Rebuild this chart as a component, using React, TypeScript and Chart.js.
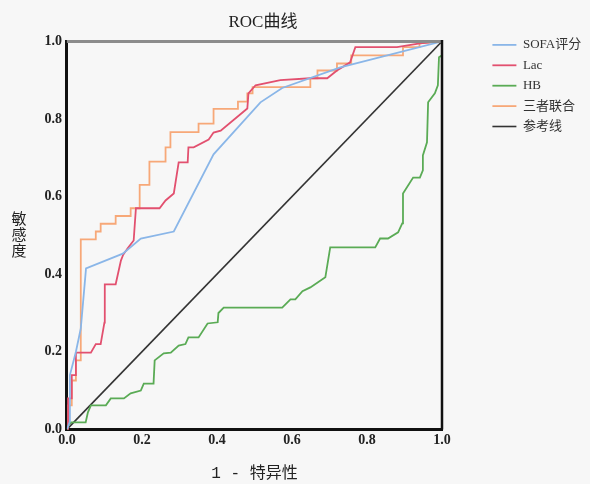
import React, { useEffect, useRef } from 'react';
import { Chart, registerables } from 'chart.js';

Chart.register(...registerables);

const chartTitle = 'ROC曲线';
const xTitle = '1 - 特异性';
const yTitle = '敏感度';
const seriesNames = ['SOFA评分', 'Lac', 'HB', '三者联合', '参考线'];
const seriesColors = ['#8ab6e8', '#e2506f', '#5aab55', '#f7a878', '#333333'];
const tickValues = [0, 0.2, 0.4, 0.6, 0.8, 1.0];

const sofaX = [0, 0.008, 0.008, 0.016, 0.024, 0.037, 0.051, 0.149, 0.197, 0.285, 0.391, 0.516, 0.574, 0.729, 1];
const sofaY = [0, 0.02, 0.14, 0.17, 0.2, 0.26, 0.415, 0.453, 0.492, 0.51, 0.709, 0.843, 0.88, 0.933, 1];

const lacX = [0, 0.003, 0.003, 0.013, 0.013, 0.024, 0.024, 0.064, 0.077, 0.09, 0.1, 0.101, 0.101, 0.13, 0.144, 0.15, 0.162, 0.178, 0.184, 0.247, 0.263, 0.285, 0.298, 0.322, 0.324, 0.338, 0.378, 0.391, 0.41, 0.481, 0.484, 0.503, 0.569, 0.649, 0.694, 0.72, 0.755, 0.769, 0.88, 0.941, 1];
const lacY = [0, 0, 0.08, 0.08, 0.14, 0.14, 0.198, 0.198, 0.22, 0.22, 0.275, 0.3, 0.374, 0.374, 0.435, 0.45, 0.467, 0.487, 0.57, 0.57, 0.59, 0.608, 0.688, 0.688, 0.727, 0.727, 0.747, 0.765, 0.77, 0.827, 0.866, 0.887, 0.9, 0.905, 0.905, 0.925, 0.946, 0.985, 0.985, 0.995, 1];

const hbX = [0, 0.003, 0.011, 0.05, 0.056, 0.064, 0.104, 0.117, 0.152, 0.17, 0.197, 0.205, 0.231, 0.234, 0.258, 0.277, 0.298, 0.316, 0.324, 0.351, 0.375, 0.402, 0.404, 0.418, 0.574, 0.596, 0.609, 0.628, 0.649, 0.689, 0.702, 0.822, 0.835, 0.856, 0.883, 0.894, 0.896, 0.923, 0.941, 0.949, 0.949, 0.96, 0.963, 0.981, 0.989, 0.992, 1, 1];
const hbY = [0, 0.01, 0.018, 0.018, 0.044, 0.062, 0.062, 0.08, 0.08, 0.093, 0.1, 0.118, 0.118, 0.178, 0.196, 0.198, 0.216, 0.22, 0.237, 0.237, 0.273, 0.276, 0.3, 0.314, 0.314, 0.335, 0.335, 0.356, 0.366, 0.392, 0.469, 0.469, 0.492, 0.492, 0.508, 0.531, 0.608, 0.649, 0.649, 0.668, 0.706, 0.74, 0.843, 0.866, 0.887, 0.959, 0.964, 1];

const comboX = [0, 0.003, 0.003, 0.013, 0.013, 0.024, 0.024, 0.037, 0.037, 0.077, 0.077, 0.09, 0.09, 0.13, 0.13, 0.17, 0.17, 0.194, 0.194, 0.22, 0.22, 0.263, 0.263, 0.276, 0.276, 0.351, 0.351, 0.391, 0.391, 0.456, 0.456, 0.481, 0.481, 0.495, 0.495, 0.649, 0.649, 0.668, 0.668, 0.72, 0.72, 0.758, 0.758, 0.896, 0.896, 0.94, 0.94, 1];
const comboY = [0, 0, 0.062, 0.062, 0.126, 0.126, 0.178, 0.178, 0.49, 0.49, 0.51, 0.51, 0.53, 0.53, 0.55, 0.55, 0.57, 0.57, 0.63, 0.63, 0.69, 0.69, 0.727, 0.727, 0.766, 0.766, 0.788, 0.788, 0.826, 0.826, 0.845, 0.845, 0.866, 0.866, 0.882, 0.882, 0.905, 0.905, 0.925, 0.925, 0.943, 0.943, 0.964, 0.964, 0.985, 0.985, 0.995, 1];

const refX = [0, 1];
const refY = [0, 1];

const serif = '"Liberation Serif", "Noto Sans CJK SC", serif';
const mono = '"Liberation Mono", "Noto Sans CJK SC", monospace';

function toPoints(xs: number[], ys: number[]) {
  return xs.map((x, i) => ({ x, y: ys[i] }));
}

const framePlugin = {
  id: 'frame',
  afterDatasetsDraw(chart: any) {
    const { ctx, chartArea } = chart;
    const { left, right, top, bottom } = chartArea;
    ctx.save();
    ctx.strokeStyle = '#8c8c8c';
    ctx.lineWidth = 3;
    ctx.beginPath();
    ctx.moveTo(left, top);
    ctx.lineTo(right + 1, top);
    ctx.stroke();
    ctx.strokeStyle = '#111111';
    ctx.lineWidth = 2.5;
    ctx.beginPath();
    ctx.moveTo(right, top - 1.5);
    ctx.lineTo(right, bottom);
    ctx.stroke();
    ctx.restore();
  },
};

const yTitlePlugin = {
  id: 'yTitleStacked',
  afterDraw(chart: any) {
    const { ctx, chartArea } = chart;
    const cy = (chartArea.top + chartArea.bottom) / 2 - 1;
    const chars = Array.from(yTitle);
    ctx.save();
    ctx.font = '15px "Noto Sans CJK SC"';
    ctx.fillStyle = '#222222';
    ctx.textAlign = 'center';
    ctx.textBaseline = 'middle';
    chars.forEach((c, i) => {
      ctx.fillText(c, 19, cy + (i - (chars.length - 1) / 2) * 16);
    });
    ctx.restore();
  },
};

export default function App() {
  const canvasRef = useRef<HTMLCanvasElement | null>(null);

  useEffect(() => {
    if (!canvasRef.current) return;
    const xs = [sofaX, lacX, hbX, comboX, refX];
    const ys = [sofaY, lacY, hbY, comboY, refY];
    const datasets = seriesNames.map((name, i) => ({
      label: name,
      data: toPoints(xs[i], ys[i]),
      borderColor: seriesColors[i],
      backgroundColor: seriesColors[i],
      borderWidth: i === 4 ? 1.6 : 1.8,
      showLine: true,
      fill: false,
      tension: 0,
      pointRadius: 0,
      pointHoverRadius: 0,
    }));

    const tickFont = { family: serif, size: 14, weight: 'bold' as const };

    const chart = new Chart(canvasRef.current, {
      type: 'scatter',
      data: { datasets },
      options: {
        animation: false,
        responsive: false,
        maintainAspectRatio: false,
        layout: { padding: { left: 39.4, right: 0, top: 0, bottom: 0 } },
        plugins: {
          tooltip: { enabled: false },
          title: {
            display: true,
            text: '    ' + chartTitle,
            fullSize: false,
            color: '#222222',
            font: { family: serif, size: 17, weight: 'normal' },
            padding: { top: 12, bottom: 9 },
          },
          legend: {
            position: 'right',
            align: 'start',
            maxWidth: 105,
            title: { display: true, text: ' ', font: { size: 10 }, padding: { top: 19, bottom: 0 } },
            labels: {
              usePointStyle: true,
              pointStyle: 'line',
              pointStyleWidth: 24,
              padding: 7.4,
              color: '#333333',
              font: { family: serif, size: 13 },
            },
          },
        },
        scales: {
          x: {
            type: 'linear',
            position: 'bottom',
            min: 0,
            max: 1,
            grid: { display: false, drawTicks: false },
            border: { display: true, color: '#111111', width: 3 },
            afterBuildTicks: (scale: any) => {
              scale.ticks = tickValues.map((v) => ({ value: v }));
            },
            ticks: {
              color: '#222222',
              font: tickFont,
              padding: 3,
              maxRotation: 0,
              autoSkip: false,
              callback: (v: any) => Number(v).toFixed(1),
            },
            title: {
              display: true,
              text: xTitle,
              color: '#222222',
              font: { family: mono, size: 16 },
              padding: { top: 11.6, bottom: 1 },
            },
          },
          y: {
            type: 'linear',
            position: 'left',
            min: 0,
            max: 1,
            grid: { display: false, drawTicks: false },
            border: { display: true, color: '#111111', width: 3 },
            afterBuildTicks: (scale: any) => {
              scale.ticks = tickValues.map((v) => ({ value: v }));
            },
            ticks: {
              color: '#222222',
              font: tickFont,
              padding: 5,
              autoSkip: false,
              callback: (v: any) => Number(v).toFixed(1),
            },
          },
          yRight: {
            type: 'linear',
            position: 'right',
            min: 0,
            max: 1,
            display: true,
            grid: { display: false, drawTicks: false },
            border: { display: false },
            ticks: { display: false },
            afterFit: (scale: any) => {
              scale.width = 43;
            },
          },
        },
      },
      plugins: [framePlugin, yTitlePlugin],
    } as any);

    return () => chart.destroy();
  }, []);

  return (
    <div style={{ position: 'absolute', left: 0, top: 0, width: 590, height: 484, background: '#f7f7f7' }}>
      <canvas ref={canvasRef} width={590} height={484} />
    </div>
  );
}
